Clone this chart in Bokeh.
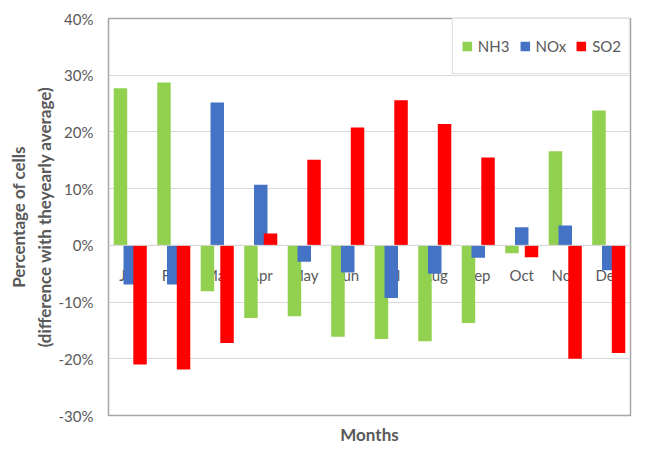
from bokeh.plotting import figure
from bokeh.models import ColumnDataSource, FactorRange, Range1d, FixedTicker, NumeralTickFormatter, Span, Title
from bokeh.transform import dodge
from bokeh.core.properties import value
from bokeh.embed import file_html
from bokeh.resources import INLINE

months = ["Jan", "Feb", "Mar", "Apr", "May", "Jun", "Jul", "Aug", "Sep", "Oct", "Nov", "Dec"]
nh3 = [0.277, 0.287, -0.081, -0.128, -0.125, -0.161, -0.165, -0.169, -0.137, -0.014, 0.166, 0.238]
nox = [-0.069, -0.069, 0.252, 0.107, -0.029, -0.048, -0.093, -0.050, -0.022, 0.032, 0.035, -0.044]
so2 = [-0.210, -0.219, -0.172, 0.021, 0.151, 0.208, 0.256, 0.214, 0.155, -0.021, -0.200, -0.190]
yticks = [-0.3, -0.2, -0.1, 0.0, 0.1, 0.2, 0.3, 0.4]

FONT = "Lato"
TXT = "#595959"

src = ColumnDataSource(dict(months=months, nh3=nh3, nox=nox, so2=so2, zero=[0.0] * len(months)))

p = figure(width=637, height=451, x_range=FactorRange(factors=months, range_padding=0),
           y_range=Range1d(yticks[0], yticks[-1]), output_backend="svg", toolbar_location=None,
           min_border_left=108, min_border_right=7, min_border_top=18, min_border_bottom=36)

# month labels (drawn beneath the bars)
p.text(x="months", y="zero", text="months", source=src, text_font=value(FONT), text_font_size="15px",
       text_color=TXT, text_align="center", text_baseline="alphabetic", y_offset=30)

bw = 0.31
off = 0.225
p.vbar(x=dodge("months", -off, range=p.x_range), top="nh3", width=bw, source=src,
       fill_color="#92d050", line_color=None, legend_label="NH3")
p.vbar(x=dodge("months", 0, range=p.x_range), top="nox", width=bw, source=src,
       fill_color="#4472c4", line_color=None, legend_label="NOx")
p.vbar(x=dodge("months", off, range=p.x_range), top="so2", width=bw, source=src,
       fill_color="#ff0000", line_color=None, legend_label="SO2")

p.add_layout(Span(location=0, dimension="width", line_color="#d9d9d9", line_width=1, level="overlay"))

p.outline_line_color = "#a6a6a6"
p.outline_line_width = 1.5
p.background_fill_color = "white"
p.border_fill_color = "white"

p.xgrid.grid_line_color = None
p.ygrid.grid_line_color = "#d9d9d9"
p.ygrid.grid_line_width = 1

ya = p.yaxis[0]
ya.ticker = FixedTicker(ticks=yticks)
ya.formatter = NumeralTickFormatter(format="0%")
ya.axis_line_color = None
ya.major_tick_line_color = None
ya.minor_tick_line_color = None
ya.major_tick_out = 0
ya.major_tick_in = 0
ya.major_label_standoff = 15
ya.major_label_text_font = FONT
ya.major_label_text_font_size = "15px"
ya.major_label_text_color = TXT
ya.axis_label = "Percentage of cells\n(difference with theyearly average)"
ya.axis_label_text_font = FONT
ya.axis_label_text_font_size = "17px"
ya.axis_label_text_font_style = "bold"
ya.axis_label_text_color = TXT
ya.axis_label_standoff = 1

p.xaxis.visible = False
p.add_layout(Title(text="Months", align="center", text_font=FONT, text_font_size="17px",
                   text_font_style="bold", text_color=TXT, standoff=13), "below")

lg = p.legend[0]
lg.location = "top_right"
lg.orientation = "horizontal"
lg.margin = 0
lg.padding = 8
lg.spacing = 9
lg.label_standoff = 5
lg.glyph_width = 12
lg.glyph_height = 12
lg.label_height = 38
lg.label_text_font = FONT
lg.label_text_font_size = "15px"
lg.label_text_color = TXT
lg.border_line_color = "#bfbfbf"
lg.border_line_width = 1.5
lg.background_fill_color = "white"
lg.background_fill_alpha = 1.0

open("out.html", "w").write(file_html(p, INLINE))
